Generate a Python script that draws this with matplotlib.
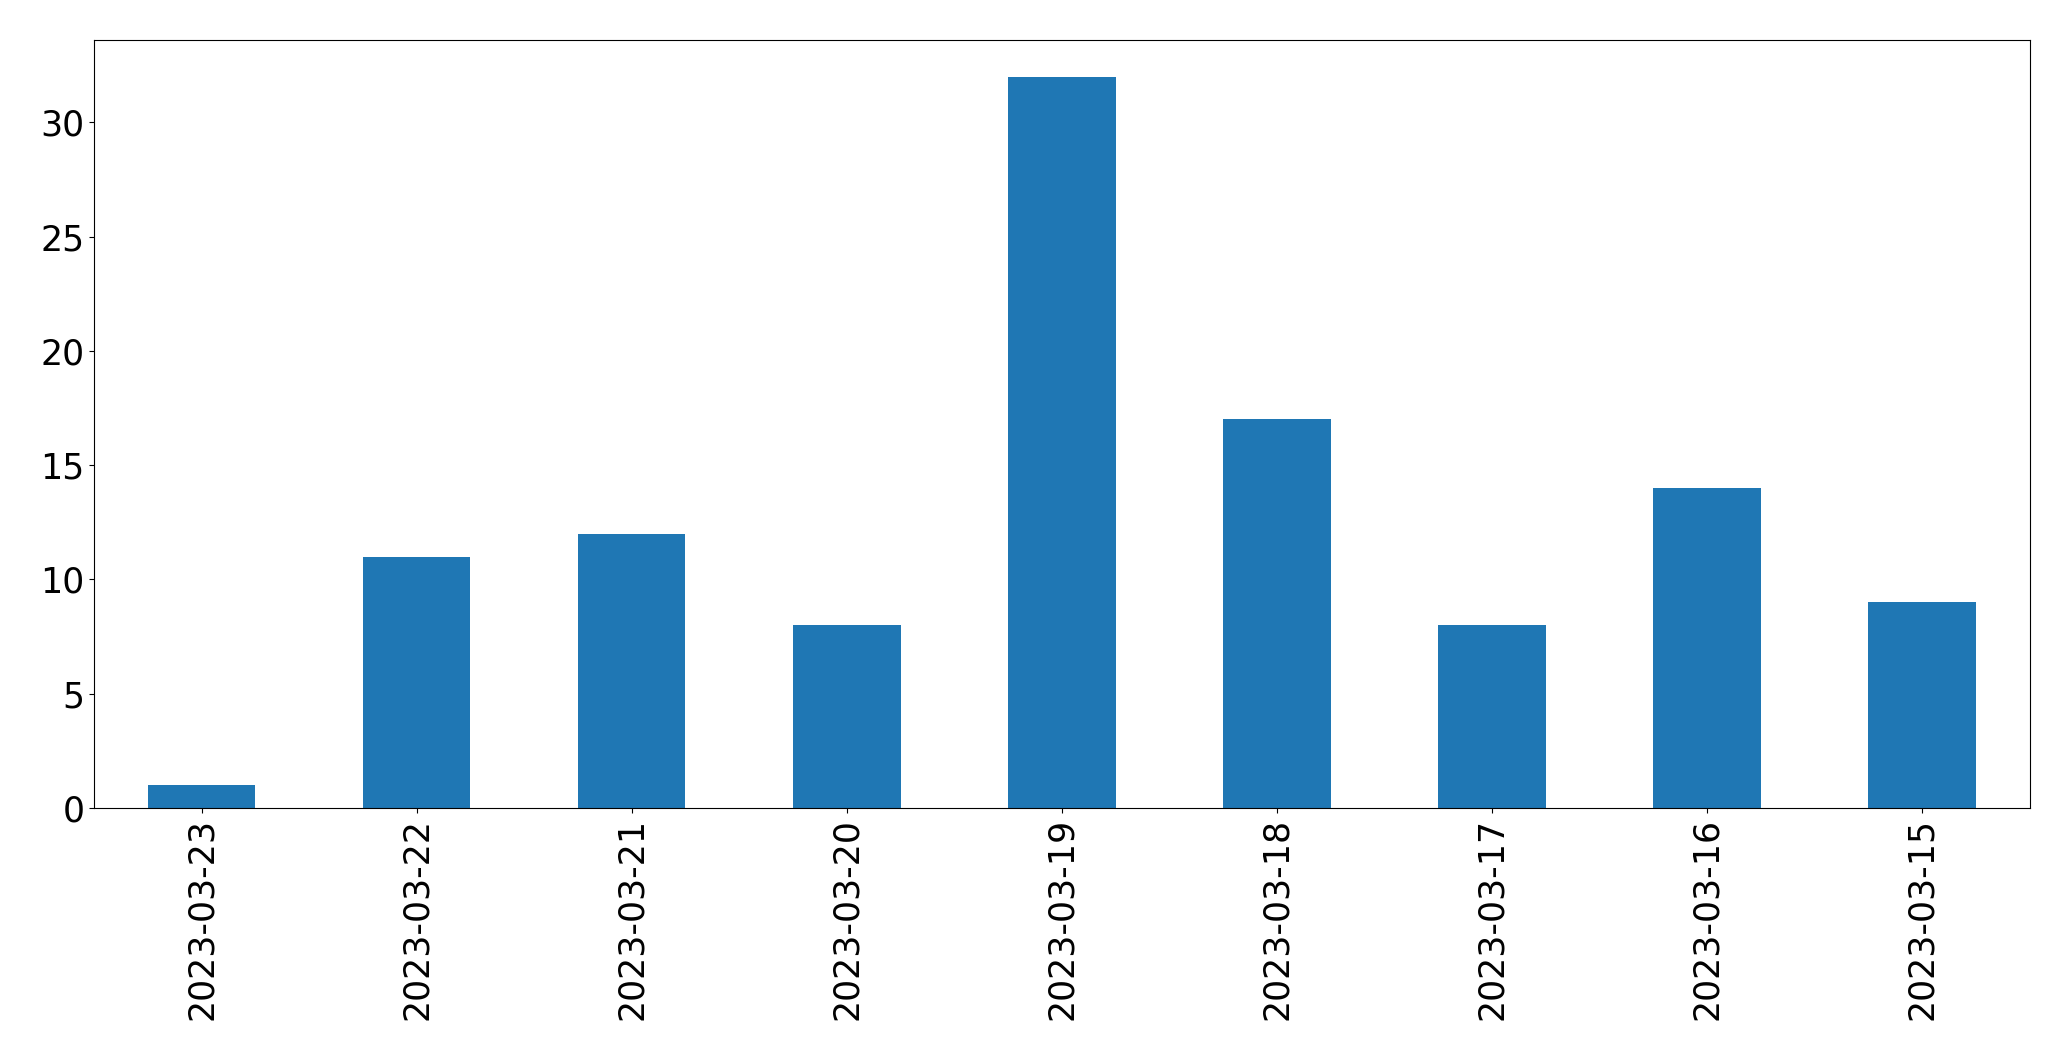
import matplotlib
matplotlib.use("Agg")
import matplotlib.pyplot as plt

dates = ["2023-03-23", "2023-03-22", "2023-03-21", "2023-03-20", "2023-03-19",
         "2023-03-18", "2023-03-17", "2023-03-16", "2023-03-15"]
counts = [1, 11, 12, 8, 32, 17, 8, 14, 9]

fig = plt.figure(figsize=(20.71, 10.61), dpi=100)
ax = fig.add_axes([0.0454, 0.2385, 0.9346, 0.7238])
x = list(range(len(dates)))
ax.bar(x, counts, width=0.5, color="#1f77b4")
ax.set_xlim(-0.5, len(dates) - 0.5)
ax.set_ylim(0, max(counts) * 1.05)
ax.set_xticks(x)
ax.set_xticklabels(dates, rotation=90)
ax.tick_params(labelsize=25)
fig.savefig("out.png", dpi=100)
